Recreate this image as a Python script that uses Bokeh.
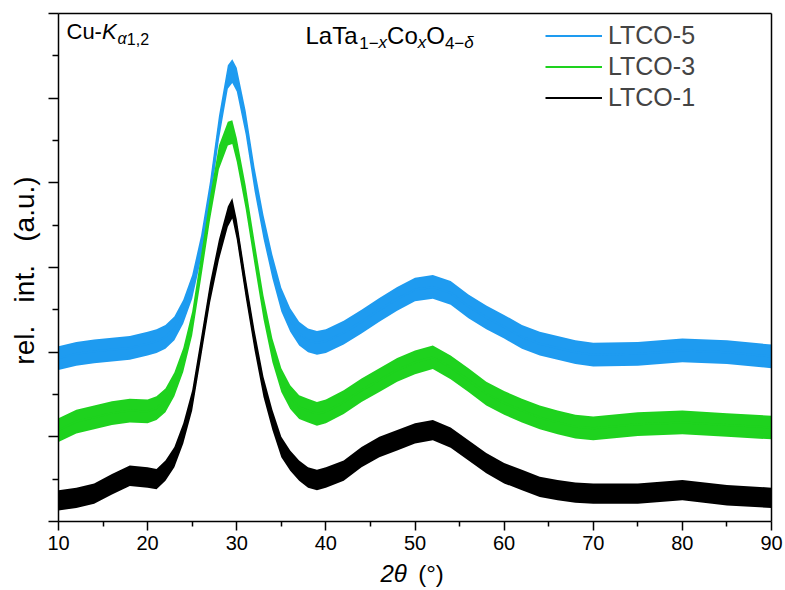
import math
from bokeh.plotting import figure
from bokeh.models import Range1d, FixedTicker, Label, Legend, LegendItem, LinearAxis
from bokeh.embed import file_html
from bokeh.resources import INLINE

# ---------------- data ----------------
theta = [10, 12, 14, 16, 18, 20, 21, 22, 23, 24, 25, 26, 27, 28, 29, 29.5, 30,
         31, 32, 33, 34, 35, 36, 37, 38, 39, 40, 42, 44, 46, 48, 50, 52, 54,
         56, 58, 60, 62, 64, 66, 68, 70, 75, 80, 85, 90]

ltco5 = [1.93, 1.98, 2.01, 2.03, 2.05, 2.10, 2.13, 2.18, 2.28, 2.48, 2.77, 3.24,
         3.88, 4.65, 5.25, 5.32, 5.22, 4.71, 4.04, 3.48, 3.01, 2.62, 2.38, 2.22,
         2.14, 2.11, 2.13, 2.23, 2.36, 2.50, 2.63, 2.74, 2.77, 2.70, 2.54, 2.41,
         2.30, 2.18, 2.10, 2.05, 2.00, 1.97, 1.98, 2.02, 2.00, 1.95]

ltco3 = [1.08, 1.18, 1.23, 1.28, 1.31, 1.30, 1.34, 1.43, 1.62, 1.91, 2.34, 3.01,
         3.70, 4.30, 4.58, 4.60, 4.39, 3.83, 3.17, 2.53, 2.02, 1.67, 1.47, 1.35,
         1.31, 1.27, 1.30, 1.41, 1.55, 1.67, 1.79, 1.88, 1.94, 1.82, 1.67, 1.51,
         1.40, 1.31, 1.23, 1.17, 1.12, 1.10, 1.15, 1.17, 1.14, 1.11]

ltco1 = [0.25, 0.28, 0.33, 0.44, 0.54, 0.52, 0.50, 0.60, 0.76, 1.04, 1.43, 2.06,
         2.70, 3.21, 3.60, 3.70, 3.45, 2.77, 2.14, 1.59, 1.20, 0.88, 0.72, 0.60,
         0.52, 0.49, 0.52, 0.60, 0.76, 0.88, 0.96, 1.04, 1.08, 0.99, 0.84, 0.69,
         0.57, 0.49, 0.41, 0.37, 0.34, 0.33, 0.33, 0.37, 0.31, 0.28]

# half-width of the noise band seen around each trace
noise5 = 0.14
noise3 = 0.14
noise1 = 0.12

names = ["LTCO-5", "LTCO-3", "LTCO-1"]
colors = ["#1e9bf0", "#1ed21e", "#000000"]

x_ticks = [10, 20, 30, 40, 50, 60, 70, 80, 90]
x_minor = [15, 25, 35, 45, 55, 65, 75, 85]
y_ticks = [0, 1, 2, 3, 4, 5, 6]
y_minor = [0.5, 1.5, 2.5, 3.5, 4.5, 5.5]

FONT = "Liberation Sans"

# ---------------- geometry: the frame fills the canvas, axes sit at fixed places ----
W_PX, H_PX = 785, 590
LEFT, RIGHT, TOP, BOTTOM = 58, 771, 13, 521      # pixel box of the drawn axes
XMIN, XMAX, YMIN, YMAX = 10, 90, 0, 6
sx = (RIGHT - LEFT) / (XMAX - XMIN)
sy = (BOTTOM - TOP) / (YMAX - YMIN)


def dx(px):
    return XMIN + (px - LEFT) / sx


def dy(py):
    return YMIN + (BOTTOM - py) / sy


p = figure(width=W_PX, height=H_PX,
           x_range=Range1d(dx(0), dx(W_PX)), y_range=Range1d(dy(H_PX), dy(0)),
           x_axis_type=None, y_axis_type=None, min_border=0,
           output_backend="svg", toolbar_location=None)
p.title.visible = False
p.grid.visible = False
p.outline_line_color = None
p.background_fill_color = "white"
p.border_fill_color = "white"

renderers = []
for vals, nz, col in [(ltco5, noise5, colors[0]), (ltco3, noise3, colors[1]),
                      (ltco1, noise1, colors[2])]:
    p.varea(x=theta, y1=[v - nz for v in vals], y2=[v + nz for v in vals],
            fill_color=col, fill_alpha=1.0)
    r = p.line(x=theta, y=vals, line_color=col, line_width=2)
    renderers.append(r)


def style_axis(ax):
    ax.axis_line_width = 1.5
    ax.axis_line_color = "black"
    ax.major_tick_line_width = 1.5
    ax.minor_tick_line_width = 1.5
    ax.major_tick_in = 0
    ax.minor_tick_in = 0


# bottom axis
xa = LinearAxis(fixed_location=YMIN, bounds=(XMIN, XMAX),
                ticker=FixedTicker(ticks=x_ticks, minor_ticks=x_minor))
style_axis(xa)
xa.major_label_overrides = {t: str(t) for t in x_ticks}
xa.major_label_text_font = FONT
xa.major_label_text_font_size = "20px"
xa.major_label_text_color = "black"
xa.major_label_standoff = 5
xa.major_tick_out = 9
xa.minor_tick_out = 5
p.add_layout(xa, "below")

# left axis (no labels)
ya = LinearAxis(fixed_location=XMIN, bounds=(YMIN, YMAX),
                ticker=FixedTicker(ticks=y_ticks, minor_ticks=y_minor))
style_axis(ya)
ya.major_label_overrides = {t: "" for t in y_ticks}
ya.major_tick_out = 10
ya.minor_tick_out = 6
p.add_layout(ya, "left")

# top and right frame lines
ta = LinearAxis(fixed_location=YMAX, bounds=(XMIN, XMAX), ticker=FixedTicker(ticks=[]))
style_axis(ta)
ta.major_tick_out = 0
ta.minor_tick_out = 0
p.add_layout(ta, "above")

ra = LinearAxis(fixed_location=XMAX, bounds=(YMIN, YMAX), ticker=FixedTicker(ticks=[]))
style_axis(ra)
ra.major_tick_out = 0
ra.minor_tick_out = 0
p.add_layout(ra, "right")

# legend: location is the bottom-left corner measured from the frame's bottom-left
legend = Legend(items=[LegendItem(label=n, renderers=[r]) for n, r in zip(names, renderers)],
                location=(545, H_PX - 113), border_line_color=None,
                background_fill_alpha=0, padding=0, margin=0, spacing=0,
                glyph_width=57, glyph_height=31, label_height=31, label_standoff=6,
                label_text_font=FONT, label_text_font_size="25px")
p.add_layout(legend)

# ---------------- texts ----------------
WID = {'L': .556, 'a': .556, 'T': .611, '1': .556, '\u2212': .584, 'x': .5, 'C': .722,
       'o': .556, 'O': .778, '4': .556, '\u03b4': .556, 'u': .556, '-': .333, 'K': .667,
       '\u03b1': .578, ',': .278, '2': .556, '\u03b8': .556, ' ': .278, '(': .333,
       ')': .333, '\u00b0': .4}
MID = 0.3465   # distance (in em) from the text-box middle down to the baseline


def rich(x0, base, pieces):
    x = x0
    for text, size, italic, shift, kern in pieces:
        x += kern
        p.add_layout(Label(x=dx(x), y=dy(base + shift - MID * size), text=text,
                           text_font=FONT, text_font_size=f"{size}px",
                           text_font_style="italic" if italic else "normal",
                           text_baseline="middle", text_align="left",
                           text_color="black"))
        x += sum(WID.get(c, 0.556) for c in text) * size


rich(66, 39, [("Cu-", 22, False, 0, 0), ("K", 22, True, 0, 0),
              ("\u03b1", 16, True, 5, 1), ("1,2", 16, False, 5, 0)])

rich(305, 43, [("LaTa", 24, False, 0, 0), ("1\u2212", 17, False, 5, -1),
               ("x", 17, True, 5, 0), ("Co", 24, False, 0, 0), ("x", 17, True, 5, 0),
               ("O", 24, False, 0, 0), ("4\u2212", 17, False, 5, 0),
               ("\u03b4", 17, True, 5, 0)])

# x-axis title
rich(380, 581, [("2\u03b8", 24, True, 0, 0), ("(\u00b0)", 24, False, 0, 11)])

# y-axis title
p.add_layout(Label(x=dx(24), y=dy(270), text="rel.\u00a0\u00a0 int.\u00a0\u00a0 (a.u.)",
                   angle=math.pi / 2, text_font=FONT, text_font_size="28px",
                   text_align="center", text_baseline="middle", text_color="black"))

open("out.html", "w").write(file_html(p, INLINE))
